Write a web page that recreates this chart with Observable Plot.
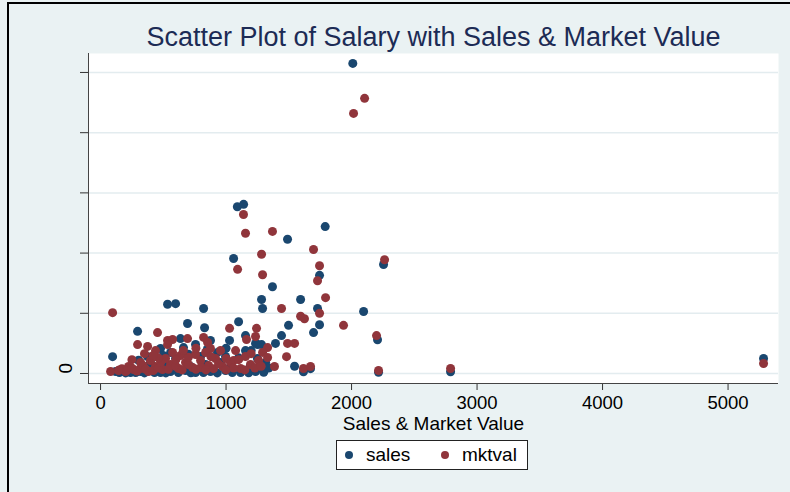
<!DOCTYPE html>
<html><head><meta charset="utf-8">
<script src="https://cdn.jsdelivr.net/npm/d3@7"></script>
<script src="https://cdn.jsdelivr.net/npm/@observablehq/plot@0.6"></script>
<style>
html,body{margin:0;padding:0;background:#eaf2f3;}
#wrap{position:relative;width:790px;height:492px;overflow:hidden;font-family:"Liberation Sans",Arial,sans-serif;background:#eaf2f3;}
#wrap svg{position:absolute;left:0;top:0;}
#border{position:absolute;left:7px;top:2px;width:800px;height:500px;border-left:2px solid #000;border-top:2px solid #000;pointer-events:none;}
#legend{position:absolute;left:336px;top:440px;width:190px;height:28px;border:1px solid #222;background:#fff;}
#legend .sw{position:absolute;width:8px;height:8px;border-radius:50%;top:10px;}
#legend .lab{position:absolute;top:3px;font-size:19px;line-height:22px;color:#000;}
</style></head>
<body>
<div id="wrap"><div id="border"></div></div>
<script>
// ---- data ----
const seriesNames = ["sales", "mktval"];
const seriesColors = ["#1a476f", "#90353b"];
const xTicks = [0, 1000, 2000, 3000, 4000, 5000];
const yTicks = [0, 10000, 20000, 30000, 40000, 50000];
const yTickLabels = ["0"];
const xTitle = "Sales & Market Value";
const chartTitle = "Scatter Plot of Salary with Sales & Market Value";

// [salary, sales]
const salesPoints = [
  [2010,51500],[1090,27700],[1140,28100],[1060,19100],[1490,22300],[1790,24400],[2255,18100],
  [1370,14400],[534,11500],[598,11600],[821,10800],[1283,12300],[1291,10800],[1594,12300],
  [1745,16300],[1729,10800],[2096,10300],[96,2800],[295,7000],[693,8300],[829,7600],[1100,8600],
  [1498,8000],[1745,8100],[1697,6800],[1442,6300],[1155,6300],[1028,5500],[1394,5000],[1251,4800],
  [1283,4800],[2207,5600],[1546,1200],[1617,300],[1673,800],[2215,200],[2789,300],[5283,2500],
  [637,5800],[932,3500],[661,4300],[1155,3800],[375,2800],[303,2200],[1235,5000],
  [120,330],[175,500],[239,170],[319,330],[398,500],[478,170],[558,330],[677,500],[757,170],
  [876,330],[996,500],[1116,170],[1235,330],[717,1160],[837,1490],[956,1830],[518,1490],
  [398,1830],[598,2490],[797,2820],[1036,1160],[1195,1330],[1315,1830],[558,3490],[478,4150],
  [757,4820],[876,5480],[996,2820],
  [150,150],[200,100],[280,150],[350,100],[430,150],[520,100],[620,150],[720,120],[820,150],
  [930,100],[1050,150],[1180,120],[1300,200],[1340,900],[1100,2600],[1250,2500],[1200,3800],
  [500,3000],[700,3200],[850,4000],[1000,4200]
];
// [salary, mktval]
const mktvalPoints = [
  [2016,43200],[2104,45700],[1139,26400],[1155,23300],[1370,23600],[1092,17300],[1283,19800],
  [1291,16400],[1697,20600],[1745,17900],[1729,15400],[1793,12600],[2263,18900],[96,10100],
  [1442,10800],[1594,9500],[1625,9100],[1745,10000],[1936,8000],[2199,6300],[2215,500],[2789,830],
  [5283,1660],[454,6800],[1028,7500],[1243,7500],[1235,6150],[1163,5650],[1490,5000],[1546,5000],
  [1482,2800],[1331,4300],[1386,1160],[1617,830],[1673,1160],[1076,3800],[1060,2160],[295,4800],
  [375,4500],[438,3800],[534,5500],[574,5650],[534,4800],[693,5800],[821,6000],[853,5150],
  [876,4150],[1291,3500],[1331,2660],
  [80,330],[143,500],[199,330],[263,660],[319,830],[382,330],[438,1160],[494,660],[558,1490],
  [622,830],[677,1830],[733,1000],[797,2160],[861,1330],[916,2490],[972,1160],[1036,1830],
  [1116,830],[1195,1490],[1259,2160],[518,2490],[637,2990],[757,3160],[398,2160],[319,1830],
  [574,3490],[837,3490],[956,3820],[1155,2820],[223,1160],
  [150,600],[170,800],[210,500],[250,900],[290,400],[340,1300],[360,700],[420,500],[460,900],
  [480,1900],[540,700],[600,1200],[650,600],[700,1500],[760,700],[800,1000],[840,600],[900,800],
  [940,1600],[1000,600],[1060,900],[1150,600],[1230,900],[1280,1200],[460,2600],[600,2300],
  [700,2700],[880,2800],[1000,2500],[1100,2300],[1200,3300],[660,3800],[760,4200],[420,3000],
  [350,3300],[250,2300]
];

const xDomain = [-96, 5402];
const yDomain = [-1661, 53150];
const font = "Liberation Sans, Arial, sans-serif";

const chart = Plot.plot({
  width: 790, height: 492,
  marginLeft: 88, marginRight: 12, marginTop: 53, marginBottom: 109,
  style: {background: "transparent", fontFamily: font, color: "#000", overflow: "visible"},
  x: {domain: xDomain},
  y: {domain: yDomain},
  marks: [
    Plot.frame({fill: "white", stroke: null}),
    Plot.gridY(yTicks, {stroke: "#e3ecef", strokeOpacity: 1, strokeWidth: 1.5}),
    Plot.axisY(yTicks, {tickSize: 8, tickFormat: () => "", stroke: "#333", label: null}),
    Plot.text(yTickLabels, {y: d => +d, text: d => d, frameAnchor: "left", dx: -23, rotate: -90, fontSize: 19, fill: "#000"}),
    Plot.axisX(xTicks, {tickSize: 7, tickPadding: 5, fontSize: 18.5, stroke: "#333", fill: "#000", label: null, tickFormat: d => String(d)}),
    Plot.ruleX([xDomain[0]], {stroke: "#444"}),
    Plot.ruleY([yDomain[0]], {stroke: "#444"}),
    Plot.dot(salesPoints, {x: d => d[0], y: d => d[1], r: 4.5, fill: seriesColors[0], stroke: null}),
    Plot.dot(mktvalPoints, {x: d => d[0], y: d => d[1], r: 4.5, fill: seriesColors[1], stroke: null}),
    Plot.text([xTitle], {frameAnchor: "bottom", lineAnchor: "middle", dy: 40, fontSize: 19, fill: "#000"}),
    Plot.text([chartTitle], {frameAnchor: "top", lineAnchor: "middle", dy: -16, fontSize: 27, fill: "#1c2b55"})
  ]
});
const wrap = document.getElementById("wrap");
wrap.insertBefore(chart, wrap.firstChild);

// legend
const legend = document.createElement("div");
legend.id = "legend";
const swLeft = [8, 104], labLeft = [29, 125];
seriesNames.forEach((name, i) => {
  const sw = document.createElement("span");
  sw.className = "sw"; sw.style.left = swLeft[i] + "px"; sw.style.background = seriesColors[i];
  const lab = document.createElement("span");
  lab.className = "lab"; lab.style.left = labLeft[i] + "px"; lab.textContent = name;
  legend.appendChild(sw); legend.appendChild(lab);
});
wrap.appendChild(legend);
</script>
</body></html>
